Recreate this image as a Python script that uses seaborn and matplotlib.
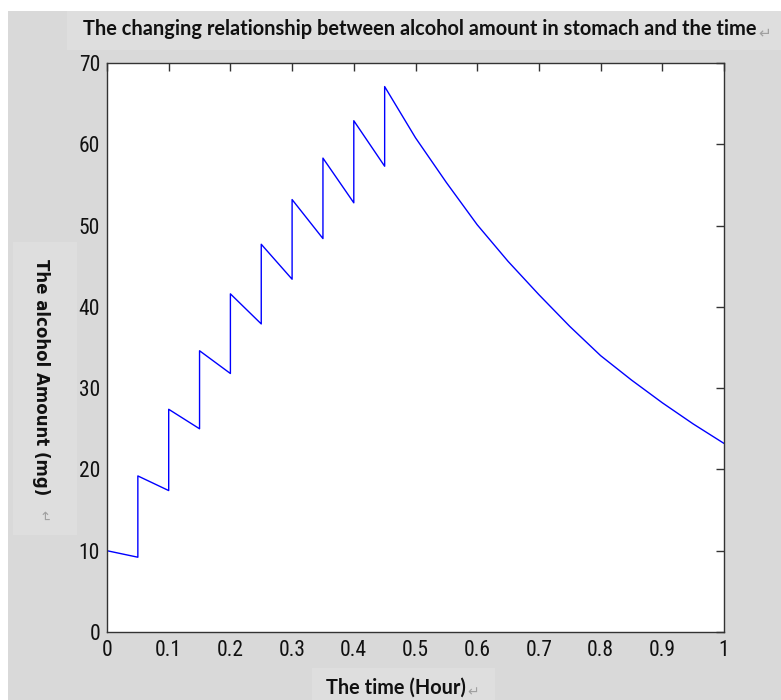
import matplotlib
matplotlib.use("Agg")
import matplotlib.pyplot as plt
from matplotlib import font_manager
from matplotlib.patches import Rectangle
from matplotlib.ticker import FormatStrFormatter
import seaborn as sns

# ---- data ----
time_hours = [0.00, 0.05, 0.05, 0.10, 0.10, 0.15, 0.15, 0.20, 0.20, 0.25,
              0.25, 0.30, 0.30, 0.35, 0.35, 0.40, 0.40, 0.45, 0.45, 0.50,
              0.55, 0.60, 0.65, 0.70, 0.75, 0.80, 0.85, 0.90, 0.95, 1.00]
alcohol_mg = [10.0, 9.2, 19.2, 17.4, 27.4, 25.0, 34.6, 31.8, 41.6, 37.9,
              47.7, 43.4, 53.2, 48.4, 58.3, 52.8, 62.9, 57.3, 67.1, 60.8,
              55.3, 50.1, 45.6, 41.5, 37.6, 34.0, 31.0, 28.2, 25.6, 23.2]
x_ticks = [0, 0.1, 0.2, 0.3, 0.4, 0.5, 0.6, 0.7, 0.8, 0.9, 1.0]
y_ticks = [0, 10, 20, 30, 40, 50, 60, 70]

title_text = "The changing relationship between alcohol amount in stomach and the time"
xlabel_text = "The time (Hour)"
ylabel_text = "The alcohol Amount (mg)"
return_mark = "\u21b5"

sns.set_style("white")
names = {f.name for f in font_manager.fontManager.ttflist}

def pick(*cands):
    for c in cands:
        if c in names:
            return c
    return "DejaVu Sans"

narrow = pick("Liberation Sans Narrow", "Roboto Condensed", "Roboto", "Liberation Sans")
head = pick("Lato", "Roboto", "Liberation Sans")
plt.rcParams["font.family"] = ["DejaVu Sans"]

W, H = 781, 700
fig = plt.figure(figsize=(W / 100, H / 100), dpi=100, facecolor="white")
renderer = fig.canvas.get_renderer()

def fit(txt, width_px):
    # scale the font size so the text spans the width it has in the reference
    size = txt.get_fontsize()
    for _ in range(3):
        w = txt.get_window_extent(renderer).width
        size *= width_px / w
        txt.set_fontsize(size)

def box(x0, y0, x1, y1, color):
    fig.patches.append(Rectangle((x0 / W, 1 - y1 / H), (x1 - x0) / W, (y1 - y0) / H,
                                 transform=fig.transFigure, facecolor=color,
                                 edgecolor="none", zorder=-10))

box(8, 11, 781, 700, "#d9d9d9")
box(67, 11, 781, 50, "#dedede")
box(13, 242, 77, 535, "#dedede")
box(312, 668, 495, 700, "#dedede")

ax = fig.add_axes([107 / W, 1 - 632 / H, (724 - 107) / W, (632 - 63) / H])
ax.set_facecolor("white")
sns.lineplot(x=time_hours, y=alcohol_mg, sort=False, estimator=None,
             color="#0000ff", linewidth=1.0, ax=ax)

ax.set_xlim(0, 1)
ax.set_ylim(0, 70)
ax.set_xticks(x_ticks)
ax.set_yticks(y_ticks)
ax.xaxis.set_major_formatter(FormatStrFormatter("%g"))
ax.set_xlabel("")
ax.set_ylabel("")
for s in ax.spines.values():
    s.set_visible(True)
    s.set_color("#333333")
    s.set_linewidth(1.0)
ax.tick_params(direction="in", top=True, right=True, length=6, width=1,
               color="#333333", labelcolor="#111111")
ax.tick_params(axis="x", pad=6)
ax.tick_params(axis="y", pad=5)

for lab in ax.get_xticklabels() + ax.get_yticklabels():
    lab.set_fontfamily(narrow)
    lab.set_fontsize(15.5)

t = fig.text(83 / W, 1 - 29 / H, title_text, ha="left", va="center",
             family=head, fontweight="bold", fontsize=14, color="#111111")
fit(t, 674)
ax.annotate(return_mark, xy=(1, 0.3), xycoords=t, xytext=(1, 0), textcoords="offset points",
            ha="left", va="center", fontsize=11, color="#a0a0a0",
            family="DejaVu Sans", annotation_clip=False)

xl = fig.text(396 / W, 1 - 688 / H, xlabel_text, ha="center", va="center",
              family=head, fontweight="bold", fontsize=12, color="#111111")
fit(xl, 140)
ax.annotate(return_mark, xy=(1, 0.3), xycoords=xl, xytext=(1, 0), textcoords="offset points",
            ha="left", va="center", fontsize=10, color="#a0a0a0",
            family="DejaVu Sans", annotation_clip=False)

fig.text(41 / W, 1 - 377 / H, ylabel_text, rotation=-90, ha="center", va="center",
         family="DejaVu Sans", fontweight="bold", fontsize=12, color="#111111")
fig.text(43 / W, 1 - 516 / H, return_mark, rotation=-90, ha="center", va="center",
         family="DejaVu Sans", fontsize=10, color="#a0a0a0")

fig.savefig("out.png", dpi=100, facecolor=fig.get_facecolor())
